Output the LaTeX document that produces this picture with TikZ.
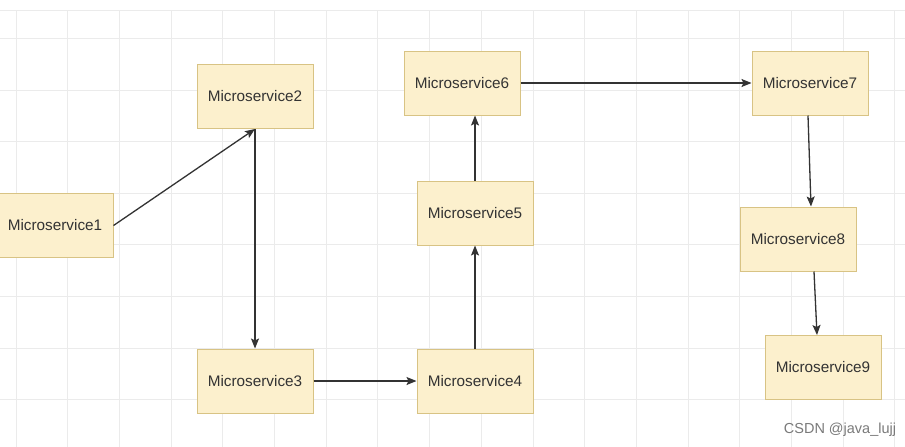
\documentclass[tikz,border=0pt]{standalone}
\usepackage{fontspec}
\setmainfont{Liberation Sans}
\usetikzlibrary{arrows.meta}
\definecolor{boxfill}{HTML}{FCF0CD}
\definecolor{boxline}{HTML}{D8C384}
\definecolor{txt}{HTML}{333333}
\definecolor{gridc}{HTML}{EBEBEB}
\definecolor{arr}{HTML}{333333}
\definecolor{wm}{HTML}{7A7A7A}
\tikzset{
  msbox/.style={draw=boxline, fill=boxfill, line width=1pt, minimum width=116pt, minimum height=64pt, inner sep=0pt, text=txt, font=\fontsize{15.3pt}{18pt}\selectfont},
  conn/.style={draw=arr, line width=1.3pt, -{Stealth[length=10pt,width=8pt,inset=2pt]}}
}
\begin{document}
\begin{tikzpicture}[x=1pt,y=-1pt]
\useasboundingbox (0,0) rectangle (905,447);
\fill[white] (0,0) rectangle (905,447);
% grid
\foreach \gx in {0,...,17} {\draw[gridc, line width=1pt] ({16+51.7*\gx},10) -- ({16+51.7*\gx},447);}
\foreach \gy in {0,...,7} {\draw[gridc, line width=1pt] (0,{38.5+51.6*\gy}) -- (905,{38.5+51.6*\gy});}
\draw[gridc, line width=1pt] (0,10) -- (905,10);
% nodes
\node[msbox] (m1) at (55,225.5) {Microservice1};
\node[msbox] (m2) at (255,96.5) {Microservice2};
\node[msbox] (m3) at (255,381) {Microservice3};
\node[msbox] (m4) at (475,381) {Microservice4};
\node[msbox] (m5) at (475,213) {Microservice5};
\node[msbox] (m6) at (462,83) {Microservice6};
\node[msbox] (m7) at (810,83) {Microservice7};
\node[msbox] (m8) at (798,239) {Microservice8};
\node[msbox] (m9) at (823,367.5) {Microservice9};
% connectors
\draw[conn] (m1.east) -- (m2.south);
\draw[conn] (m2.south) -- (m3.north);
\draw[conn] (m3.east) -- (m4.west);
\draw[conn] (m4.north) -- (m5.south);
\draw[conn] (m5.north) -- (m5.north |- m6.south);
\draw[conn] (m6.east) -- (m7.west);
\draw[conn] ([xshift=-2pt]m7.south) -- ([xshift=13pt]m8.north);
\draw[conn] ([xshift=16pt]m8.south) -- ([xshift=-6pt]m9.north);
% watermark
\node[text=wm, font=\fontsize{14.5pt}{17pt}\selectfont, inner sep=0pt] (wmk) at (840,430) {CSDN @java\_lujj};
\end{tikzpicture}
\end{document}
